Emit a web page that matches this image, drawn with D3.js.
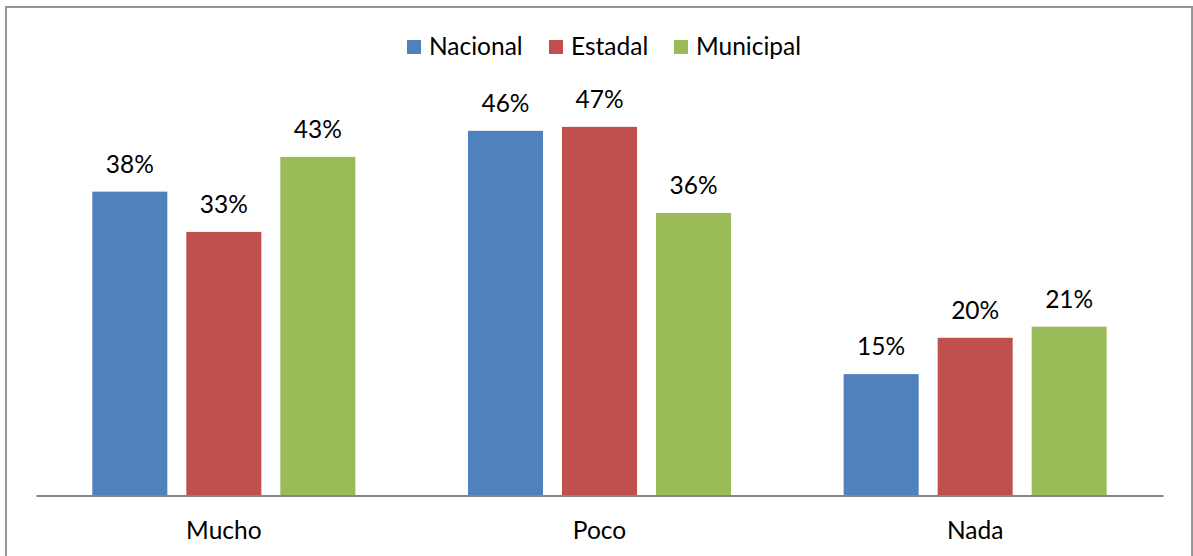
<!DOCTYPE html>
<html>
<head>
<meta charset="utf-8">
<script src="https://cdn.jsdelivr.net/npm/d3@7"></script>
<style>
  body { margin: 0; background: #fff; }
  svg text { font-family: Lato, "Open Sans", sans-serif; fill: #000; }
</style>
</head>
<body>
<div id="chart"></div>
<script>
const width = 1193
const height = 556

const categories = ["Mucho", "Poco", "Nada"]
const series = ["Nacional", "Estadal", "Municipal"]
const nacional = [0.384, 0.461, 0.153]
const estadal = [0.333, 0.466, 0.199]
const municipal = [0.428, 0.357, 0.213]
const colors = ["#4F81BD", "#C0504D", "#9BBB59"]

const values = [nacional, estadal, municipal]
const rows = categories.map((c, i) => ({
    cat: c,
    vals: series.map((s, j) => ({ serie: s, value: values[j][i], color: colors[j] }))
}))

const svg = d3.select("#chart")
    .append("svg")
    .attr("width", width)
    .attr("height", height)

// marco
svg.append("rect")
    .attr("x", 6)
    .attr("y", 7)
    .attr("width", 1186)
    .attr("height", 560)
    .attr("fill", "none")
    .attr("stroke", "#969696")
    .attr("stroke-width", 2)

const x0 = d3.scaleBand()
    .domain(categories)
    .range([36, 1163])

const x1 = d3.scaleBand()
    .domain(series)
    .range([0, x0.bandwidth()])
    .paddingInner(0.202)
    .paddingOuter(0.599)

const y = d3.scaleLinear()
    .domain([0, 0.5])
    .range([495, 100])

const groups = svg.selectAll(".grupo")
    .data(rows)
    .enter()
    .append("g")
    .attr("class", "grupo")
    .attr("transform", d => `translate(${x0(d.cat)},0)`)

groups.selectAll("rect")
    .data(d => d.vals)
    .enter()
    .append("rect")
    .attr("x", d => x1(d.serie))
    .attr("y", d => y(d.value))
    .attr("width", x1.bandwidth())
    .attr("height", d => y(0) - y(d.value))
    .attr("fill", d => d.color)

groups.selectAll(".etiqueta")
    .data(d => d.vals)
    .enter()
    .append("text")
    .attr("class", "etiqueta")
    .attr("x", d => x1(d.serie) + x1.bandwidth() / 2)
    .attr("y", d => y(d.value) - 19)
    .attr("text-anchor", "middle")
    .attr("font-size", 24.5)
    .text(d => Math.round(d.value * 100) + "%")

// eje x
const xAxis = svg.append("g")
    .attr("transform", "translate(0,495.5)")
    .call(d3.axisBottom(x0).tickSize(0).tickPadding(0))
xAxis.select(".domain")
    .attr("stroke", "#868686")
    .attr("stroke-width", 2)
xAxis.selectAll("text")
    .attr("y", 43.5)
    .attr("dy", 0)
    .attr("font-size", 24.5)
    .attr("font-family", "Lato, 'Open Sans', sans-serif")

// leyenda
const legendX = [407, 549, 674]
const legend = svg.selectAll(".leyenda")
    .data(series)
    .enter()
    .append("g")
    .attr("class", "leyenda")
    .attr("transform", (d, i) => `translate(${legendX[i]},40)`)
legend.append("rect")
    .attr("width", 14)
    .attr("height", 14)
    .attr("fill", (d, i) => colors[i])
legend.append("text")
    .attr("x", 22)
    .attr("y", 15)
    .attr("font-size", 24.5)
    .text(d => d)
</script>
</body>
</html>
